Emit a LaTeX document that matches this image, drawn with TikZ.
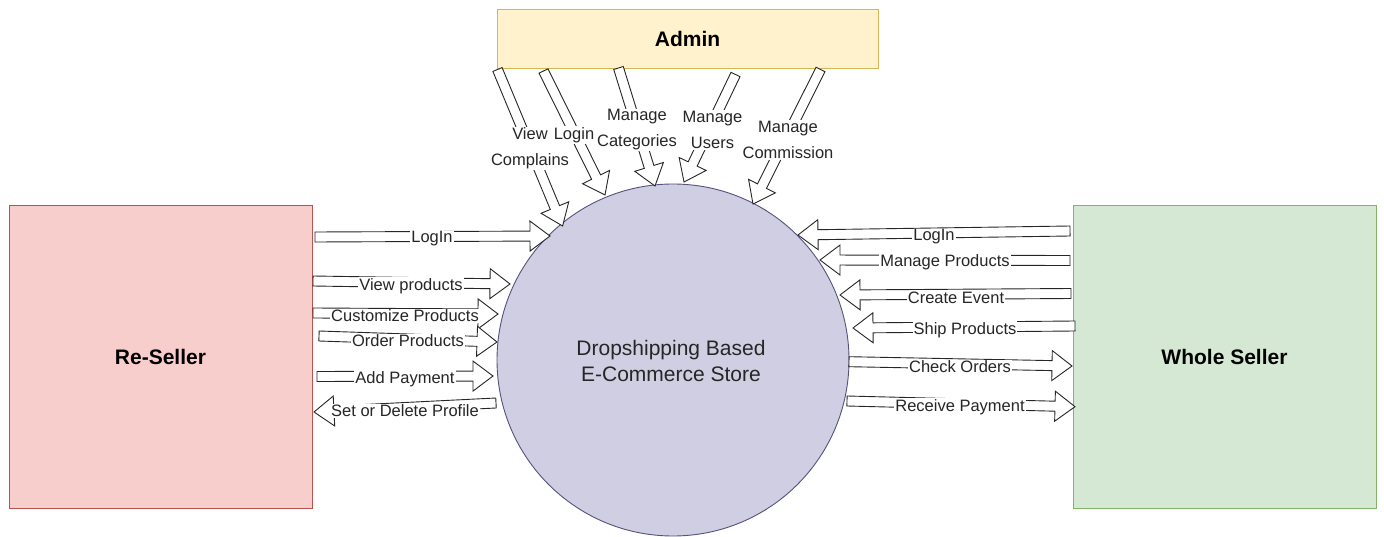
\documentclass[tikz,border=0pt]{standalone}
\usepackage{fontspec}
\setmainfont{Liberation Sans}
\usetikzlibrary{calc}

% hollow "flex" arrow from #1 (tail) to #2 (tip)
\newcommand\hollowarrow[2]{%
  \coordinate (hb) at ($(#2)!20pt!(#1)$);
  \draw[flexline] ($(#1)!5pt!90:(#2)$) -- ($(hb)!5pt!90:(#2)$) -- ($(hb)!15pt!90:(#2)$)
    -- (#2) -- ($(hb)!15pt!-90:(#2)$) -- ($(hb)!5pt!-90:(#2)$) -- ($(#1)!5pt!-90:(#2)$) -- cycle;
}

\tikzset{
  flexline/.style={draw=black!85, fill=white, line width=0.9pt, line join=miter},
  entity/.style={draw, line width=0.9pt, font=\fontsize{21}{25}\selectfont\bfseries},
  flowlabel/.style={fill=white, inner sep=1pt, align=center, text=black!85, yshift=-2pt,
    font=\fontsize{16.5}{26}\selectfont},
}

\begin{document}
\begin{tikzpicture}[x=1pt,y=-1pt]
\useasboundingbox (0,0) rectangle (1384,537);

% external entities and the process
\node[entity, fill={rgb,255:red,255;green,242;blue,204}, draw={rgb,255:red,214;green,182;blue,86},
  minimum width=381pt, minimum height=59pt] (admin) at (687.5,38.5) {Admin};
\node[entity, fill={rgb,255:red,248;green,206;blue,204}, draw={rgb,255:red,184;green,84;blue,80},
  minimum width=303pt, minimum height=303pt] (reseller) at (160.5,356.5) {Re-Seller};
\node[entity, fill={rgb,255:red,213;green,232;blue,212}, draw={rgb,255:red,130;green,179;blue,102},
  minimum width=303pt, minimum height=303pt] (whole) at (1224.5,356.5) {Whole Seller};
\node[circle, draw={rgb,255:red,86;green,81;blue,126}, fill={rgb,255:red,208;green,206;blue,226},
  line width=0.9pt, minimum size=352pt, inner sep=0pt] (store) at (673,360) {};
\node[align=center, text=black!85, font=\fontsize{21}{26}\selectfont] (storetext) at (671,361)
  {Dropshipping Based\\ E-Commerce Store};

% arrow end points
\coordinate (a1t) at (497.5,69.5);  \coordinate (a1h) at (562.6,226);
\coordinate (a2t) at (543.5,71);    \coordinate (a2h) at (605,195);
\coordinate (a3t) at (618.5,68);    \coordinate (a3h) at (655,186);
\coordinate (a4t) at (735.5,74.5);  \coordinate (a4h) at (684,182);
\coordinate (a5t) at (820.5,69.5);  \coordinate (a5h) at (753,204);

\coordinate (r1t) at (315,237);   \coordinate (r1h) at (550,236);
\coordinate (r2t) at (313,281);   \coordinate (r2h) at (510,284);
\coordinate (r3t) at (313,313);   \coordinate (r3h) at (498,314);
\coordinate (r4t) at (319,336);   \coordinate (r4h) at (497,342);
\coordinate (r5t) at (317,376.5); \coordinate (r5h) at (493,376);
\coordinate (r6t) at (496,403);   \coordinate (r6h) at (314,412);

\coordinate (w1t) at (1070,231);   \coordinate (w1h) at (798,235);
\coordinate (w2t) at (1070,260.5); \coordinate (w2h) at (820,260);
\coordinate (w3t) at (1071,293.5); \coordinate (w3h) at (840,295);
\coordinate (w4t) at (1075,326);   \coordinate (w4h) at (853,328);
\coordinate (w5t) at (849,361.7);  \coordinate (w5h) at (1072,366);
\coordinate (w6t) at (847,401);    \coordinate (w6h) at (1075,406.7);

% data flows
\foreach \n in {a1,a2,a3,a4,a5,r1,r2,r3,r4,r5,r6,w1,w2,w3,w4,w5,w6}
  {\hollowarrow{\n t}{\n h}}

% flow labels
\node[flowlabel] (l1) at (530,146.5) {View\\Complains};
\node[flowlabel] (l2) at (574,133) {Login};
\node[flowlabel] (l3) at (637,128) {Manage\\Categories};
\node[flowlabel] (l4) at (712.5,128) {Manage\\Users};
\node[flowlabel] (l5) at (788,138) {Manage\\Commission};

\node[flowlabel] (m1) at (432,237) {LogIn};
\node[flowlabel] (m2) at (411,284) {View products};
\node[flowlabel] (m3) at (405,314) {Customize Products};
\node[flowlabel] (m4) at (408,339) {Order Products};
\node[flowlabel] (m5) at (405,377) {Add Payment};
\node[flowlabel] (m6) at (405,409) {Set or Delete Profile};

\node[flowlabel] (n1) at (934,235) {LogIn};
\node[flowlabel] (n2) at (945,260) {Manage Products};
\node[flowlabel] (n3) at (956,296) {Create Event};
\node[flowlabel] (n4) at (965,328) {Ship Products};
\node[flowlabel] (n5) at (960,365) {Check Orders};
\node[flowlabel] (n6) at (960,405) {Receive Payment};
\end{tikzpicture}
\end{document}
